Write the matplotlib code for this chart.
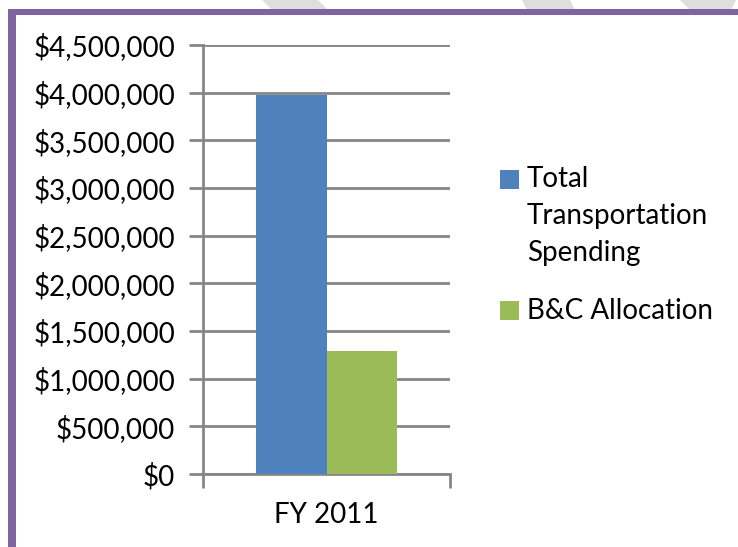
import matplotlib
matplotlib.use("Agg")
import matplotlib.pyplot as plt
from matplotlib.patches import Rectangle, Polygon
from matplotlib.ticker import FuncFormatter, FixedLocator

# ---- data ----
categories = ["FY 2011"]
series_names = ["Total\nTransportation\nSpending", "B&C Allocation"]
total_spending = [3975000]
bc_allocation = [1285000]
y_ticks = [0, 500000, 1000000, 1500000, 2000000, 2500000, 3000000, 3500000, 4000000, 4500000]

W, H = 738, 547
DPI = 100
FS = 20
plt.rcParams['font.family'] = ['Lato', 'DejaVu Sans']

fig = plt.figure(figsize=(W / DPI, H / DPI), dpi=DPI)
fig.patch.set_facecolor('white')

def fx(px):
    return px / W

def fy(py):
    return 1 - py / H

# decorative gray stripes at the top
stripe_col = '#DEDEDE'
stripes = [
    [(262, 0), (318, 0), (328, 10), (272, 10)],
    [(522, 0), (570, 0), (575, 10), (527, 10)],
    [(680, 0), (736, 0), (731, 10), (690, 10)],
]
for s in stripes:
    fig.patches.append(Polygon([(fx(x), fy(y)) for x, y in s], closed=True,
                               transform=fig.transFigure, facecolor=stripe_col,
                               edgecolor='none', zorder=0))

# purple frame (top and left)
purple = '#8064A2'
fig.patches.append(Rectangle((fx(8), fy(15)), fx(W) - fx(8), fy(9) - fy(15),
                             transform=fig.transFigure, facecolor=purple,
                             edgecolor='none', zorder=1))
fig.patches.append(Rectangle((fx(8), fy(H)), fx(16) - fx(8), fy(9) - fy(H),
                             transform=fig.transFigure, facecolor=purple,
                             edgecolor='none', zorder=1))

# axes
ax_l, ax_r, ax_t, ax_b = 203, 450, 45, 474
ax = fig.add_axes([fx(ax_l), fy(ax_b), fx(ax_r) - fx(ax_l), fy(ax_t) - fy(ax_b)])
ax.set_facecolor('none')

colors = ['#4F81BD', '#9BBB59']
bar_w = 0.287
x0 = 0
ax.bar([x0 - bar_w / 2], total_spending, width=bar_w, color=colors[0], zorder=3)
ax.bar([x0 + bar_w / 2], bc_allocation, width=bar_w, color=colors[1], zorder=3)

ax.set_xlim(-0.5, 0.5)
ax.set_ylim(0, 4500000)
ax.set_yticks(y_ticks)
ax.yaxis.set_major_formatter(FuncFormatter(lambda v, p: "${:,.0f}".format(v)))
ax.set_xticks([0])
ax.set_xticklabels(categories)
ax.xaxis.set_minor_locator(FixedLocator([-0.5, 0.5]))

grid_col = '#868686'
ax.grid(axis='y', color=grid_col, linewidth=2.0, zorder=1)
for side in ['top', 'right']:
    ax.spines[side].set_visible(False)
for side in ['left', 'bottom']:
    ax.spines[side].set_color(grid_col)
    ax.spines[side].set_linewidth(2.0)

ax.tick_params(axis='y', which='major', length=10, width=2.0, color=grid_col,
               pad=10, labelsize=FS, labelcolor='black')
ax.tick_params(axis='x', which='major', length=0, pad=20, labelsize=FS, labelcolor='black')
ax.tick_params(axis='x', which='minor', length=10, width=2.0, color=grid_col)

# legend (drawn manually to mimic Excel layout)
line_step = 37
leg_items = [(series_names[0], colors[0], 170, 187), (series_names[1], colors[1], 301, 319)]
for label, col, ytop, ybase in leg_items:
    fig.patches.append(Rectangle((fx(500), fy(ytop + 19)), fx(519) - fx(500), fy(ytop) - fy(ytop + 19),
                                 transform=fig.transFigure, facecolor=col, edgecolor='none'))
    for i, line in enumerate(label.split('\n')):
        fig.text(fx(527), fy(ybase + i * line_step), line, ha='left', va='baseline',
                 fontsize=FS, color='black')

fig.savefig('out.png', dpi=DPI)
